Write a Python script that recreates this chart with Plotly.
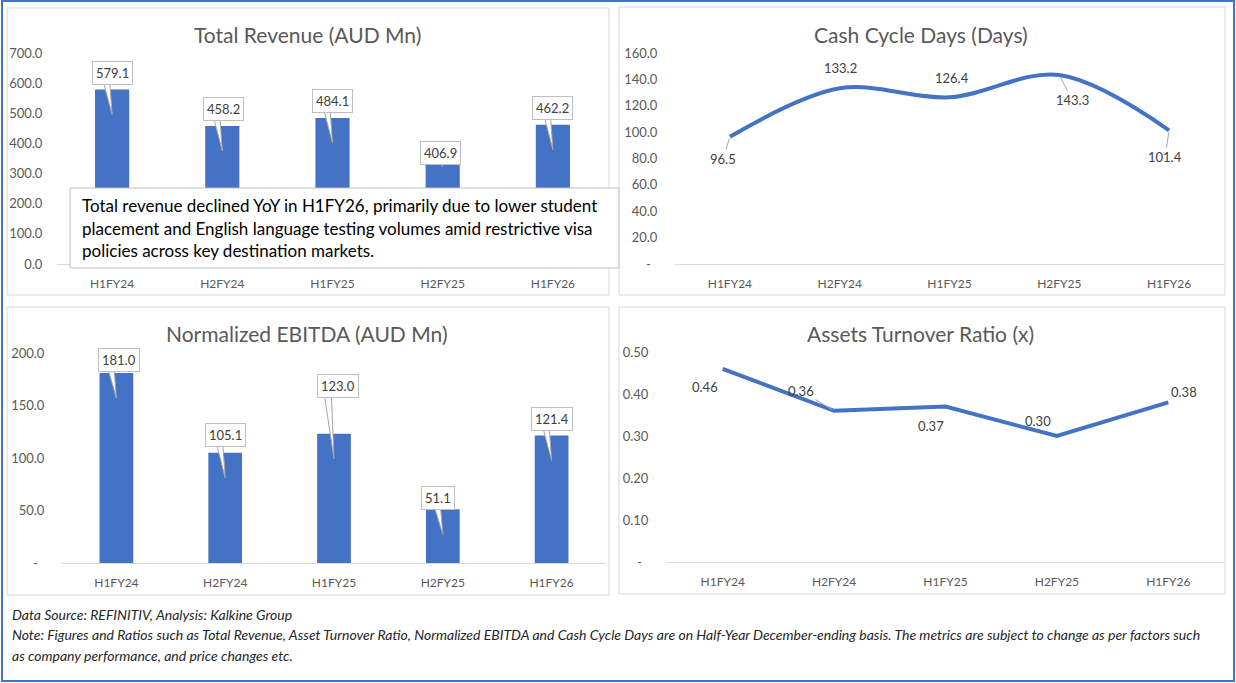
import plotly.graph_objects as go

# ---------------- data ----------------
categories = ["H1FY24", "H2FY24", "H1FY25", "H2FY25", "H1FY26"]
revenue = [579.1, 458.2, 484.1, 406.9, 462.2]
cash_cycle = [96.5, 133.2, 126.4, 143.3, 101.4]
ebitda = [181.0, 105.1, 123.0, 51.1, 121.4]
turnover = [0.46, 0.36, 0.37, 0.30, 0.38]

rev_ticks = [0, 100, 200, 300, 400, 500, 600, 700]
rev_ticktext = ["0.0", "100.0", "200.0", "300.0", "400.0", "500.0", "600.0", "700.0"]
cash_ticks = [0, 20, 40, 60, 80, 100, 120, 140, 160]
cash_ticktext = ["-\u00a0\u00a0", "20.0", "40.0", "60.0", "80.0", "100.0", "120.0", "140.0", "160.0"]
ebitda_ticks = [0, 50, 100, 150, 200]
ebitda_ticktext = ["-\u00a0\u00a0", "50.0", "100.0", "150.0", "200.0"]
turn_ticks = [0, 0.1, 0.2, 0.3, 0.4, 0.5]
turn_ticktext = ["-\u00a0\u00a0", "0.10", "0.20", "0.30", "0.40", "0.50"]

titles = ["Total Revenue (AUD Mn)", "Cash Cycle Days (Days)",
          "Normalized EBITDA (AUD Mn)", "Assets Turnover Ratio (x)"]
note_lines = [
    "Total revenue declined YoY in H1FY26, primarily due to lower student",
    "placement and English language testing volumes amid restrictive visa",
    "policies across key destination markets.",
]
footer_lines = [
    "Data Source: REFINITIV, Analysis: Kalkine Group",
    "Note: Figures and Ratios such as Total Revenue, Asset Turnover Ratio, Normalized EBITDA and Cash Cycle Days are on Half-Year December-ending basis. The metrics are subject to change as per factors such",
    "as company performance, and price changes etc.",
]

# ---------------- layout helpers ----------------
W, H = 1236, 683
FONT = "Lato"
BLUE = "#4472C4"
GRAY_TXT = "#595959"
LBL = "#404040"
BORDER = "#D9D9D9"


def px(x):
    return x / W


def py(y):
    return 1 - y / H


fig = go.Figure()

fig.add_trace(go.Bar(x=categories, y=revenue, marker_color=BLUE, xaxis="x", yaxis="y"))
fig.add_trace(go.Scatter(x=categories, y=cash_cycle, mode="lines", xaxis="x2", yaxis="y2",
                         line=dict(color=BLUE, width=4, shape="spline", smoothing=1)))
fig.add_trace(go.Bar(x=categories, y=ebitda, marker_color=BLUE, xaxis="x3", yaxis="y3"))
fig.add_trace(go.Scatter(x=categories, y=turnover, mode="lines", xaxis="x4", yaxis="y4",
                         line=dict(color=BLUE, width=4)))

# axes domains (pixel positions of plot areas)
plot_areas = {
    1: ((57, 608), (264, 53), [0, 700], rev_ticks, rev_ticktext, 11),
    2: ((675, 1224), (264, 53), [0, 160], cash_ticks, cash_ticktext, 14),
    3: ((62, 606), (563, 353), [0, 200], ebitda_ticks, ebitda_ticktext, 14),
    4: ((667, 1224), (562, 352), [0, 0.5], turn_ticks, turn_ticktext, 15),
}

layout_axes = {}
for i, ((x0, x1), (yb, yt), rng, tv, tt, tl) in plot_areas.items():
    sfx = "" if i == 1 else str(i)
    layout_axes["xaxis" + sfx] = dict(
        domain=[px(x0), px(x1)], anchor="y" + sfx, type="category", automargin=False,
        range=[-0.5, len(categories) - 0.5],
        showline=True, linecolor=BORDER, linewidth=1, showgrid=False, zeroline=False,
        ticks="outside", ticklen=9, tickcolor="rgba(0,0,0,0)",
        tickfont=dict(family=FONT, size=12, color=GRAY_TXT), fixedrange=True,
    )
    layout_axes["yaxis" + sfx] = dict(
        domain=[py(yb), py(yt)], anchor="x" + sfx, range=rng, automargin=False,
        tickvals=tv, ticktext=tt, showline=False, showgrid=False, zeroline=False,
        ticks="outside", ticklen=tl, tickcolor="rgba(0,0,0,0)",
        tickfont=dict(family=FONT, size=13, color=GRAY_TXT), fixedrange=True,
    )

shapes = []
annotations = []

# outer border
shapes.append(dict(type="rect", xref="paper", yref="paper", x0=px(2), x1=px(1234),
                   y0=py(681), y1=py(1), line=dict(color=BLUE, width=2)))
# panel borders
panels = [(7, 8, 609, 295), (619, 7, 1225, 295), (7, 307, 609, 595), (619, 307, 1225, 594)]
for (a, b, c, d) in panels:
    shapes.append(dict(type="rect", xref="paper", yref="paper", x0=px(a), x1=px(c),
                       y0=py(d), y1=py(b), line=dict(color=BORDER, width=1), layer="below"))

# titles
title_pos = [(307, 35), (921, 35), (306, 334), (920, 333)]
for t, (tx, ty) in zip(titles, title_pos):
    annotations.append(dict(text=t, xref="paper", yref="paper", x=px(tx), y=py(ty),
                            showarrow=False, xanchor="center", yanchor="middle",
                            font=dict(family=FONT, size=21, color=GRAY_TXT)))

# bar callouts
rev_dy = [16, 17, 17, -11.5, 17]
rev_dx = [0, 1, 0, -2, 0]
eb_dy = [13, 18, 48, 11, 16.5]
eb_dx = [3, 0, 4, -5, 0]
TIP = 25
for (vals, dys, dxs, sfx, fmt) in [(revenue, rev_dy, rev_dx, "", "{:.1f}"),
                                   (ebitda, eb_dy, eb_dx, "3", "{:.1f}")]:
    for c, v, dy, dx in zip(categories, vals, dys, dxs):
        shapes.append(dict(type="path", xref="x" + sfx, yref="y" + sfx,
                           xsizemode="pixel", ysizemode="pixel", xanchor=c, yanchor=v,
                           path=f"M -11,{dy} L -3,{dy} L 0,{-TIP} Z",
                           fillcolor="white", line=dict(color="#A6A6A6", width=1),
                           layer="above"))
        annotations.append(dict(text=fmt.format(v), xref="x" + sfx, yref="y" + sfx,
                                x=c, y=v, xshift=dx, yshift=dy, showarrow=False,
                                xanchor="center", yanchor="middle",
                                bgcolor="white", bordercolor="#BFBFBF", borderwidth=1,
                                borderpad=3, font=dict(family=FONT, size=13, color=LBL)))

# line labels: (ax, ay, leader)
cash_lbl = [(-7, 22, True), (1, -20, False), (2, -19, False), (13, 25, True), (-4, 27, True)]
turn_lbl = [(-18, 18, False), (-33, -20, True), (-14, 19, False), (-19, -15, False), (16, -10, False)]
for (vals, offs, sfx, fmt) in [(cash_cycle, cash_lbl, "2", "{:.1f}"),
                               (turnover, turn_lbl, "4", "{:.2f}")]:
    for c, v, (ax, ay, lead) in zip(categories, vals, offs):
        if lead:
            annotations.append(dict(text=fmt.format(v), xref="x" + sfx, yref="y" + sfx,
                                    x=c, y=v, ax=ax, ay=ay, showarrow=True, arrowhead=0,
                                    arrowwidth=1, arrowcolor="#A6A6A6", standoff=2,
                                    font=dict(family=FONT, size=13, color=LBL)))
        else:
            annotations.append(dict(text=fmt.format(v), xref="x" + sfx, yref="y" + sfx,
                                    x=c, y=v, xshift=ax, yshift=-ay, showarrow=False,
                                    xanchor="center", yanchor="middle",
                                    font=dict(family=FONT, size=13, color=LBL)))

# commentary box in revenue panel
shapes.append(dict(type="rect", xref="paper", yref="paper", x0=px(70), x1=px(619),
                   y0=py(268), y1=py(188), fillcolor="white",
                   line=dict(color="#BFBFBF", width=1), layer="above"))
for line, ly in zip(note_lines, [206, 228, 250]):
    annotations.append(dict(text=line, xref="paper", yref="paper", x=px(80), y=py(ly),
                            showarrow=False, xanchor="left", yanchor="middle",
                            font=dict(family=FONT, size=17, color="#000000")))

# footer
for line, ly in zip(footer_lines, [614, 634, 655]):
    annotations.append(dict(text=f"<i>{line}</i>", xref="paper", yref="paper", x=px(10), y=py(ly),
                            showarrow=False, xanchor="left", yanchor="middle",
                            font=dict(family=FONT, size=14, color="#262626")))

fig.update_layout(
    template="none",
    width=W, height=H, margin=dict(l=0, r=0, t=0, b=0, pad=0, autoexpand=False),
    paper_bgcolor="white", plot_bgcolor="rgba(0,0,0,0)",
    showlegend=False, bargap=0.69,
    shapes=shapes, annotations=annotations,
    font=dict(family=FONT),
    **layout_axes,
)

fig.write_html("out.html", config={"displayModeBar": False},
               post_script="document.body.style.margin='0';document.body.style.overflow='hidden';")
